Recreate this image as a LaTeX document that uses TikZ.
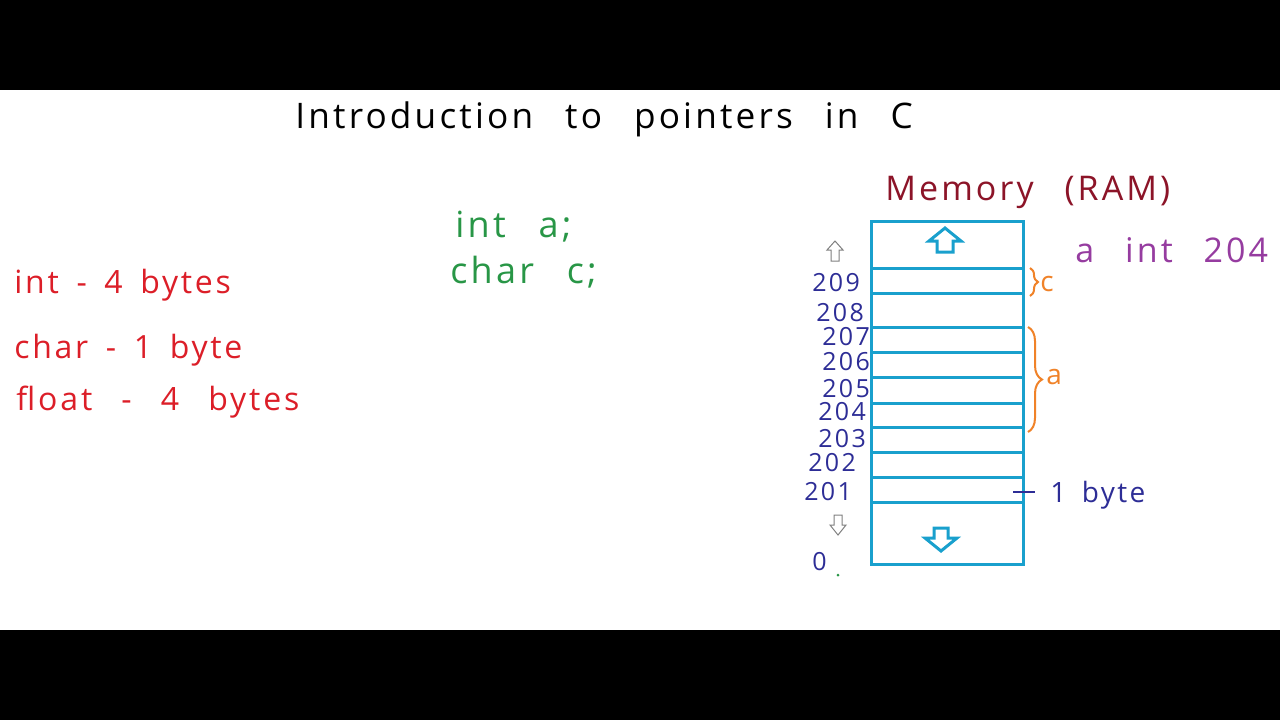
\documentclass[tikz,border=0pt]{standalone}
\usepackage{fontspec}
\usetikzlibrary{decorations.pathreplacing}
\newfontfamily\handfont[LetterSpace=9, WordSpace=2.6]{Open Sans}
\newfontfamily\handtight[LetterSpace=8.5, WordSpace=1.6]{Open Sans}
\definecolor{inkred}{RGB}{220,30,40}
\definecolor{inkgreen}{RGB}{40,150,70}
\definecolor{inkblue}{RGB}{45,45,150}
\definecolor{inkcyan}{RGB}{25,160,205}
\definecolor{inkorange}{RGB}{240,130,40}
\definecolor{inkpurple}{RGB}{150,60,160}
\definecolor{inkwine}{RGB}{140,20,40}
\begin{document}
\begin{tikzpicture}[x=0.5pt,y=-0.5pt,
		hand/.style={inner sep=0pt, anchor=base west},
		cellline/.style={inkcyan, line width=1.5pt},
		addr/.style={hand, inkblue, font=\handfont\fontsize{12.5}{14}\selectfont}]
		\useasboundingbox (0,0) rectangle (1280,720);
		\fill [black] (0,0) rectangle (1280,720);
		\fill [white] (0,90) rectangle (1280,630);

		% заголовок
		\node [hand, font=\handfont\fontsize{17.6}{22}\selectfont] (title) at (295,128) {Introduction to pointers in C};

		% размеры типов
		\node [hand, inkred, font=\handtight\fontsize{16}{18}\selectfont] (intsize) at (14,293) {int - 4 bytes};
		\node [hand, inkred, font=\handtight\fontsize{16}{18}\selectfont] (charsize) at (14,358) {char - 1 byte};
		\node [hand, inkred, font=\handfont\fontsize{16}{18}\selectfont] (floatsize) at (16,410) {float - 4 bytes};

		% объявления
		\node [hand, inkgreen, font=\handfont\fontsize{18}{20}\selectfont] (decla) at (455,237) {int a;};
		\node [hand, inkgreen, font=\handfont\fontsize{18}{20}\selectfont] (declc) at (450,283) {char c;};

		% память
		\node [hand, inkwine, font=\handfont\fontsize{17}{20}\selectfont] (memtitle) at (885,200) {Memory (RAM)};
		\node [hand, inkpurple, font=\handfont\fontsize{17}{20}\selectfont] (table) at (1075,262) {a int 204};

		\draw [cellline] (871,221) rectangle (1023,564);
		\draw [cellline] (871,268) -- (1023,268);
		\draw [cellline] (871,293) -- (1023,293);
		\draw [cellline] (871,327) -- (1023,327);
		\draw [cellline] (871,352) -- (1023,352);
		\draw [cellline] (871,377) -- (1023,377);
		\draw [cellline] (871,403) -- (1023,403);
		\draw [cellline] (871,427) -- (1023,427);
		\draw [cellline] (871,452) -- (1023,452);
		\draw [cellline] (871,477) -- (1023,477);
		\draw [cellline] (871,502) -- (1023,502);

		% стрелки в памяти
		\draw [cellline] (945,228) -- (961,241) -- (953,241) -- (953,252) -- (937,252) -- (937,241) -- (929,241) -- cycle;
		\draw [cellline] (941,551) -- (957,538) -- (948,538) -- (948,528) -- (934,528) -- (934,538) -- (925,538) -- cycle;
		\draw [gray, line width=0.5pt] (835,241) -- (843,250) -- (839,250) -- (839,261) -- (831,261) -- (831,250) -- (827,250) -- cycle;
		\draw [gray, line width=0.5pt] (838,535) -- (846,525) -- (842,525) -- (842,515) -- (834,515) -- (834,525) -- (830,525) -- cycle;

		% адреса
		\node [addr] (a209) at (812,291) {209};
		\node [addr] (a208) at (816,321) {208};
		\node [addr] (a207) at (822,345) {207};
		\node [addr] (a206) at (822,370) {206};
		\node [addr] (a205) at (822,397) {205};
		\node [addr] (a204) at (818,420) {204};
		\node [addr] (a203) at (818,447) {203};
		\node [addr] (a202) at (808,471) {202};
		\node [addr] (a201) at (804,500) {201};
		\node [addr] (a0) at (812,570) {0};
		\fill [inkgreen] (838,575) circle (1.5);

		% переменные
		\draw [inkorange, line width=1pt, decorate, decoration={brace, amplitude=4pt}] (1030,268) -- (1030,296);
		\node [hand, inkorange, font=\handfont\fontsize{14}{16}\selectfont] (varc) at (1040,291) {c};
		\draw [inkorange, line width=1pt, decorate, decoration={brace, amplitude=7pt}] (1028,327) -- (1028,432);
		\node [hand, inkorange, font=\handfont\fontsize{14}{16}\selectfont] (vara) at (1046,384) {a};

		% байт
		\draw [inkblue, line width=1pt] (1013,492) -- (1035,492);
		\node [hand, inkblue, font=\handtight\fontsize{14}{16}\selectfont] (onebyte) at (1050,502) {1 byte};
	\end{tikzpicture}
\end{document}
